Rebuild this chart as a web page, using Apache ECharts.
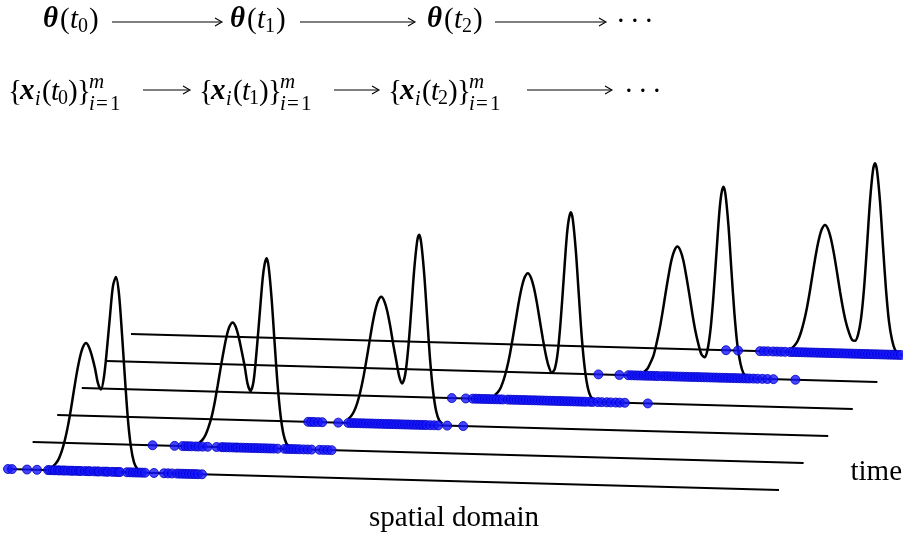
<!DOCTYPE html>
<html><head><meta charset="utf-8">
<script src="https://cdn.jsdelivr.net/npm/echarts@6/dist/echarts.min.js"></script>
<style>html,body{margin:0;padding:0;background:#fff}#c{width:903px;height:535px}</style>
</head><body><div id="c"></div>
<script>
// ---------------- data ----------------
// time steps (one slanted baseline per step, front to back)
const timeSteps = [0, 1, 2, 3, 4, 5];
// spatial domain coordinate along each baseline: 0 .. 771
const domainLength = 771;

// density curves theta(t_k): [spatial position, density]
const density0 = [[45,4],[48,7],[51,12],[54,20],[57,31],[60,45],[63,62],[66,81],[69,99],[72,114],[75,124],[78,128],[81,124],[84,115],[87,103],[90,88],[93,82],[96,95],[99,123],[102,156],[105,186],[108,195],[111,178],[114,138],[117,93],[120,52],[123,25],[126,10],[129,4],[132,1]];
const density1 = [[167,4],[170,7],[173,12],[176,20],[179,30],[182,44],[185,61],[188,79],[191,96],[194,111],[197,121],[200,125],[203,121],[206,111],[209,97],[212,82],[215,64],[218,57],[221,67],[224,97],[227,133],[230,169],[232,184],[234,190],[236,182],[239,150],[242,106],[245,64],[248,33],[251,14],[254,5],[257,2]];
const density2 = [[291,4],[294,7],[297,12],[300,20],[303,31],[306,45],[309,62],[312,80],[315,98],[318,113],[321,123],[324,127],[327,123],[330,113],[333,98],[336,80],[339,64],[342,48],[345,41],[348,50],[351,76],[354,114],[357,155],[360,184],[362,190],[364,182],[367,151],[370,107],[373,64],[376,33],[379,14],[382,5],[385,2]];
const density3 = [[413,4],[416,7],[419,12],[422,20],[425,31],[428,45],[431,62],[434,80],[437,98],[440,113],[443,123],[446,127],[449,123],[452,113],[455,98],[458,80],[461,62],[464,46],[467,34],[470,28],[473,32],[476,49],[479,82],[482,124],[485,165],[487,182],[489,189],[491,182],[494,151],[497,107],[500,64],[503,33],[506,14],[509,5],[512,2]];
const density4 = [[538,4],[541,7],[544,13],[547,20],[550,32],[553,46],[556,63],[559,82],[562,100],[565,116],[568,126],[571,130],[574,126],[577,116],[580,100],[583,82],[586,63],[589,46],[592,33],[595,23],[598,20],[601,27],[604,47],[607,81],[610,124],[613,166],[615,184],[617,191],[619,184],[622,153],[625,108],[628,65],[631,33],[634,15],[637,5],[640,2]];
const density5 = [[661,4],[664,7],[667,12],[670,20],[673,31],[676,45],[679,62],[682,81],[685,99],[688,114],[691,124],[694,128],[697,124],[700,114],[703,99],[706,81],[709,62],[712,45],[715,31],[718,21],[721,14],[724,13],[727,19],[730,35],[733,65],[736,108],[739,153],[742,184],[744,191],[746,184],[749,153],[752,108],[755,65],[758,33],[761,15],[764,5],[767,2]];

// particles {x_i(t_k)}: spatial positions
const particles0 = [0,4,19,29,40,42,45,47,50,52,55,57,60,63,65,68,71,73,77,80,82,86,89,91,95,98,100,104,107,110,112,119,122,125,128,131,134,137,146,156,160,164,169,172,175,178,181,184,187,190,194];
const particles1 = [120,142,150,153,156,159,163,166,170,175,184,189,191,194,197,200,203,205,208,211,214,217,220,223,226,229,232,235,238,241,245,252,255,258,261,264,267,271,275,279,287,291,295,299];
const particles2 = [251,254,257,261,265,281,291,294,297,300,303,306,309,312,315,318,321,324,327,330,333,336,339,342,345,348,351,354,357,360,363,366,369,373,377,381,390,406];
const particles3 = [370,384,391,394,397,400,403,406,409,412,415,418,421,426,429,432,435,438,441,444,447,450,453,456,459,462,465,468,471,474,477,480,483,486,489,492,495,498,501,504,508,511,516,520,525,529,534,538,543,566];
const particles4 = [492,513,522,525,528,531,534,537,540,543,546,549,552,556,559,562,565,568,571,574,577,580,583,586,589,592,595,598,601,604,607,610,613,616,619,622,625,628,631,634,637,640,643,647,651,656,661,667,689];
const particles5 = [595,607,629,633,637,642,646,650,654,659,662,665,668,671,674,677,680,683,686,689,692,695,698,701,704,707,710,713,716,719,722,725,728,731,734,737,740,743,746,749,752,755,758,761,764,767,770];

const densities = [density0, density1, density2, density3, density4, density5];
const particles = [particles0, particles1, particles2, particles3, particles4, particles5];

const axisLabelSpace = 'spatial domain';
const axisLabelTime = 'time';

// ---------------- oblique projection (layout) ----------------
const origin = [8, 469];        // start of the front baseline
const stepOffset = [24.6, -27]; // shift per time step
const domainDrop = 21;          // vertical drop along the domain
function project(k, s, h) {
  return [origin[0] + stepOffset[0] * k + s,
          origin[1] + stepOffset[1] * k + domainDrop * s / domainLength - (h || 0)];
}

const series = [];
timeSteps.forEach(k => {
  series.push({ type: 'line', silent: true, symbol: 'none', z: 1,
    data: [project(k, 0), project(k, domainLength)],
    lineStyle: { color: '#000', width: 2 } });
});
timeSteps.forEach(k => {
  series.push({ type: 'line', silent: true, symbol: 'none', z: 2, smooth: 0.3,
    data: densities[k].map(p => project(k, p[0], p[1])),
    lineStyle: { color: '#000', width: 2.5 } });
});
timeSteps.forEach(k => {
  series.push({ type: 'scatter', silent: true, z: 3, symbolSize: 9,
    data: particles[k].map(s => project(k, s)),
    itemStyle: { color: '#1515ff', borderColor: '#0000c0', borderWidth: 1 } });
});

// ---------------- formula texts ----------------
const F = '"Liberation Serif", "Times New Roman", serif';
function txt(t, x, y, size, style) {
  return { type: 'text', x: x, y: y, silent: true,
    style: { text: t, font: (style || '') + ' ' + size + 'px ' + F, fill: '#000',
             textAlign: 'left', textVerticalAlign: 'middle' } };
}
function arrow(x1, x2, y) {
  return { type: 'group', silent: true, children: [
    { type: 'line', shape: { x1: x1, y1: y, x2: x2 - 1, y2: y }, style: { stroke: '#000', lineWidth: 1.2 } },
    { type: 'polyline', shape: { points: [[x2 - 7, y - 4], [x2, y], [x2 - 7, y + 4]] }, style: { stroke: '#000', lineWidth: 1.1, fill: null } }
  ]};
}
const S = 29, s2 = 20, s3 = 21;
const graphics = [];
// row 1: theta(t_k)
const row1y = 20;
[[43, '0'], [230, '1'], [427, '2']].forEach(g => {
  const x = g[0];
  graphics.push(txt('θ', x, row1y, S, 'italic bold'));
  graphics.push(txt('(', x + 17, row1y, S));
  graphics.push(txt('t', x + 27, row1y, S, 'italic'));
  graphics.push(txt(g[1], x + 35, row1y + 7, s2));
  graphics.push(txt(')', x + 46, row1y, S));
});
graphics.push(arrow(112, 222, 22), arrow(300, 415, 22), arrow(495, 606, 22));
[616, 630, 644].forEach(x => graphics.push(txt('·', x, 22, S)));
// row 2: {x_i(t_k)}_{i=1}^m
const row2y = 92;
[[8, '0'], [199, '1'], [388, '2']].forEach(g => {
  const x = g[0];
  graphics.push(txt('{', x, row2y, S));
  graphics.push(txt('x', x + 12, row2y, S, 'italic bold'));
  graphics.push(txt('i', x + 27, row2y + 8, s2, 'italic'));
  graphics.push(txt('(', x + 34, row2y, S));
  graphics.push(txt('t', x + 43, row2y, S, 'italic'));
  graphics.push(txt(g[1], x + 50, row2y + 7, s2));
  graphics.push(txt(')', x + 60, row2y, S));
  graphics.push(txt('}', x + 69, row2y, S));
  graphics.push(txt('m', x + 81, row2y - 10, s3, 'italic'));
  graphics.push(txt('i', x + 81, row2y + 12, s3, 'italic'));
  graphics.push(txt('=', x + 88, row2y + 12, s3));
  graphics.push(txt('1', x + 102, row2y + 12, s3));
});
graphics.push(arrow(143, 190, 90), arrow(334, 379, 90), arrow(527, 612, 90));
[624, 638, 652].forEach(x => graphics.push(txt('·', x, 92, S)));

const chart = echarts.init(document.getElementById('c'), null, { renderer: 'canvas' });
chart.setOption({
  animation: false,
  backgroundColor: '#fff',
  grid: { left: 0, right: 0, top: 0, bottom: 0 },
  xAxis: { type: 'value', min: 0, max: 903, show: false },
  yAxis: { type: 'value', min: 0, max: 535, inverse: true, show: false },
  series: series,
  graphic: graphics.concat([
    { type: 'text', x: 902, y: 472, silent: true,
      style: { text: axisLabelTime, font: '29px ' + F, fill: '#000', textAlign: 'right', textVerticalAlign: 'middle' } },
    { type: 'text', x: 369, y: 518, silent: true,
      style: { text: axisLabelSpace, font: '29px ' + F, fill: '#000', textAlign: 'left', textVerticalAlign: 'middle' } }
  ])
});
</script></body></html>
